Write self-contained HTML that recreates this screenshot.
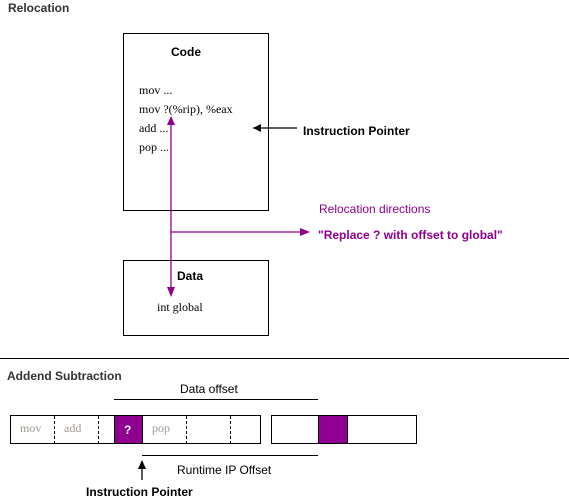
<!DOCTYPE html>
<html><head><meta charset="utf-8"><style>
html,body{margin:0;padding:0;background:#fff;width:569px;height:498px;overflow:hidden}
svg text{font-family:"Liberation Sans",sans-serif;font-size:12px}
.serif{font-family:"Liberation Serif",serif !important}
</style></head><body>
<svg width="569" height="498" viewBox="0 0 569 498" xmlns="http://www.w3.org/2000/svg">
<text x="8" y="12" font-weight="bold" fill="#333">Relocation</text>
<rect x="123.5" y="33.5" width="145" height="177" fill="none" stroke="#000"/>
<text x="171" y="56" font-weight="bold">Code</text>
<g class="serif">
<text class="serif" x="139" y="94">mov ...</text>
<text class="serif" x="139" y="113">mov ?(%rip), %eax</text>
<text class="serif" x="139" y="132">add ...</text>
<text class="serif" x="139" y="151">pop ...</text>
</g>
<rect x="123.5" y="260.5" width="145" height="75" fill="none" stroke="#000"/>
<text x="177" y="280" font-weight="bold">Data</text>
<text class="serif" x="157" y="311">int global</text>
<g stroke="#900090" fill="#900090">
<line x1="171" y1="124" x2="171" y2="290" stroke-width="1.3"/>
<polygon points="167,125 175,125 171,116" stroke="none"/>
<polygon points="167,287 175,287 171,297" stroke="none"/>
<line x1="171" y1="232" x2="302" y2="232" stroke-width="1.3"/>
<polygon points="300,228 300,236 310,232" stroke="none"/>
</g>
<line x1="253" y1="128" x2="297" y2="128" stroke="#000" stroke-width="1.3"/>
<polygon points="253,128 261,124 261,132" fill="#000"/>
<text x="303" y="135" font-weight="bold">Instruction Pointer</text>
<text x="319" y="213" fill="#900090">Relocation directions</text>
<text x="318" y="239" fill="#900090" font-weight="bold">"Replace ? with offset to global"</text>
<line x1="0" y1="358.5" x2="569" y2="358.5" stroke="#000"/>
<text x="7" y="380" font-weight="bold" fill="#333">Addend Subtraction</text>
<text x="180" y="393">Data offset</text>
<line x1="114" y1="399.5" x2="318" y2="399.5" stroke="#000"/>
<rect x="10.5" y="415.5" width="250" height="28" fill="none" stroke="#000"/>
<rect x="114.5" y="415.5" width="28" height="28" fill="#900090" stroke="#000"/>
<text x="124" y="434" fill="#fff" font-weight="bold">?</text>
<g stroke="#000" stroke-dasharray="3,2">
<line x1="54.5" y1="416" x2="54.5" y2="443"/><line x1="98.5" y1="416" x2="98.5" y2="443"/>
<line x1="186.5" y1="416" x2="186.5" y2="443"/><line x1="230.5" y1="416" x2="230.5" y2="443"/>
</g>
<text class="serif" x="20" y="432" fill="#a09890">mov</text>
<text class="serif" x="64" y="432" fill="#a09890">add</text>
<text class="serif" x="152" y="432" fill="#a09890">pop</text>
<rect x="271.5" y="415.5" width="145" height="28" fill="none" stroke="#000"/>
<rect x="318.5" y="415.5" width="29" height="28" fill="#900090" stroke="#000"/>
<line x1="142" y1="455.5" x2="318" y2="455.5" stroke="#000"/>
<line x1="142" y1="466" x2="142" y2="480" stroke="#000" stroke-width="1.3"/>
<polygon points="142,460 138,469 146,469" fill="#000"/>
<text x="177" y="474">Runtime IP Offset</text>
<text x="86" y="496" font-weight="bold">Instruction Pointer</text>
</svg>
</body></html>
